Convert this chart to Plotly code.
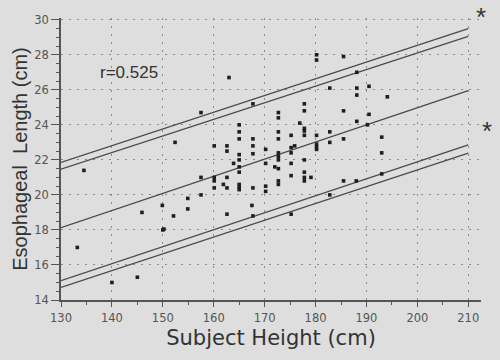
import plotly.graph_objects as go

# Scatter data: subject height (cm) vs esophageal length (cm)
height = [133.2, 134.5, 140.0, 145.0, 145.9, 149.9, 150.0, 150.2, 152.1, 152.4,
          154.9, 154.9, 157.5, 157.5, 157.5, 160.1, 160.1, 160.1, 160.1, 161.9,
          162.6, 162.6, 162.6, 162.6, 162.6, 163.0, 163.9, 165.0, 165.0, 165.0,
          165.0, 165.0, 165.0, 165.0, 165.0, 165.0, 165.0, 167.5, 167.7, 167.7,
          167.7, 167.7, 167.7, 167.7, 170.2, 170.2, 170.2, 170.2, 172.0, 172.7,
          172.7, 172.7, 172.7, 172.7, 172.7, 172.7, 172.7, 172.7, 172.7, 175.2,
          175.2, 175.2, 175.2, 175.2, 175.2, 175.9, 176.9, 177.8, 177.8, 177.8,
          177.8, 177.8, 177.8, 177.8, 177.8, 177.8, 179.1, 180.2, 180.2, 180.2,
          180.2, 180.2, 180.2, 182.8, 182.8, 182.8, 182.8, 185.5, 185.5, 185.5,
          185.5, 188.1, 188.1, 188.1, 188.1, 188.0, 190.2, 190.5, 190.5, 193.0,
          193.0, 193.0, 194.1]
length = [17.0, 21.4, 15.0, 15.3, 19.0, 19.4, 18.0, 18.05, 18.8, 23.0,
          19.8, 19.2, 24.7, 21.0, 20.0, 22.8, 21.0, 20.8, 20.4, 20.6,
          22.8, 22.5, 21.0, 20.4, 18.9, 26.7, 21.8, 24.0, 23.6, 23.2,
          22.3, 22.0, 21.6, 21.3, 20.6, 20.45, 20.3, 19.4, 25.2, 23.2,
          22.8, 22.35, 20.4, 18.8, 22.6, 21.8, 20.5, 20.2, 21.6, 24.7,
          24.4, 23.6, 23.2, 22.4, 22.2, 22.0, 21.5, 20.8, 20.6, 23.4,
          22.7, 22.4, 21.8, 21.1, 18.9, 22.8, 24.1, 25.2, 24.8, 23.8,
          23.65, 23.4, 22.0, 21.3, 21.0, 20.8, 21.0, 28.0, 27.7, 23.4,
          22.9, 22.75, 22.6, 26.1, 23.6, 23.0, 20.0, 27.9, 24.8, 23.2,
          20.8, 27.0, 26.1, 25.7, 24.2, 20.8, 24.0, 26.2, 24.6, 23.3,
          22.4, 21.2, 25.6]

# Regression line and bands (end points)
line_x = [130, 210]
center_y = [18.13, 25.96]
upper_outer_y = [21.85, 29.5]
upper_inner_y = [21.47, 29.05]
lower_inner_y = [15.1, 22.86]
lower_outer_y = [14.72, 22.38]

x_ticks = [130, 140, 150, 160, 170, 180, 190, 200, 210]
y_ticks = [14, 16, 18, 20, 22, 24, 26, 28, 30]

BG = "#dedede"
LINE = "#4a4a4a"

fig = go.Figure()
for ys in [upper_outer_y, upper_inner_y, center_y, lower_inner_y, lower_outer_y]:
    fig.add_trace(go.Scatter(x=line_x, y=ys, mode="lines",
                             line=dict(color=LINE, width=1.3),
                             showlegend=False, hoverinfo="skip"))

fig.add_trace(go.Scatter(x=height, y=length, mode="markers",
                         marker=dict(symbol="square", size=3.6, color="#1e1e1e",
                                     line=dict(width=0)),
                         showlegend=False))

fig.add_annotation(x=143.4, y=26.97, text="r=0.525", showarrow=False,
                   font=dict(family="Liberation Sans", size=17, color="#333333"),
                   xanchor="center", yanchor="middle")
for ax, ay in [(1.0, 1.005), (1.014, 0.598)]:
    fig.add_annotation(xref="paper", yref="paper", x=ax, y=ay, text="*",
                       showarrow=False,
                       font=dict(family="Liberation Sans", size=26, color="#333333"),
                       xanchor="center", yanchor="middle")

tickfont = dict(family="DejaVu Sans", size=11.5, color="#555555")
fig.update_layout(
    width=500, height=360,
    margin=dict(l=61, r=19, t=18, b=60, autoexpand=False),
    paper_bgcolor=BG, plot_bgcolor=BG,
    xaxis=dict(range=[130, 212.5], tickvals=x_ticks, ticktext=[str(v) for v in x_ticks],
               automargin=False,
               showline=True, linecolor="#555555", linewidth=1.5,
               ticks="outside", ticklen=5, tickcolor="#555555", tickwidth=1.2,
               minor=dict(dtick=5, tick0=130, ticks="outside", ticklen=3,
                          tickcolor="#555555", showgrid=False),
               showgrid=True, gridcolor="#8a8a8a", griddash="2px,6px", gridwidth=1,
               zeroline=False, tickfont=tickfont, ticklabelstandoff=1,
               title=dict(text="Subject Height (cm)", standoff=7,
                          font=dict(family="DejaVu Sans", size=21, color="#333333"))),
    yaxis=dict(range=[14, 30.1], tickvals=y_ticks, ticktext=[str(v) for v in y_ticks],
               automargin=False,
               showline=True, linecolor="#555555", linewidth=1.5,
               ticks="outside", ticklen=8, tickcolor="#555555", tickwidth=1.2,
               minor=dict(dtick=0.5, tick0=14, ticks="outside", ticklen=3,
                          tickcolor="#555555", showgrid=False),
               showgrid=True, gridcolor="#8a8a8a", griddash="2px,6px", gridwidth=1,
               zeroline=False, tickfont=tickfont, ticklabelstandoff=0,
               title=dict(text="Esophageal  Length (cm)", standoff=1,
                          font=dict(family="Liberation Sans", size=20, color="#333333"))),
)

fig.write_html("out.html", config={"displayModeBar": False},
               post_script="document.body.style.margin='0';"
                           "document.body.style.background='" + BG + "';")
